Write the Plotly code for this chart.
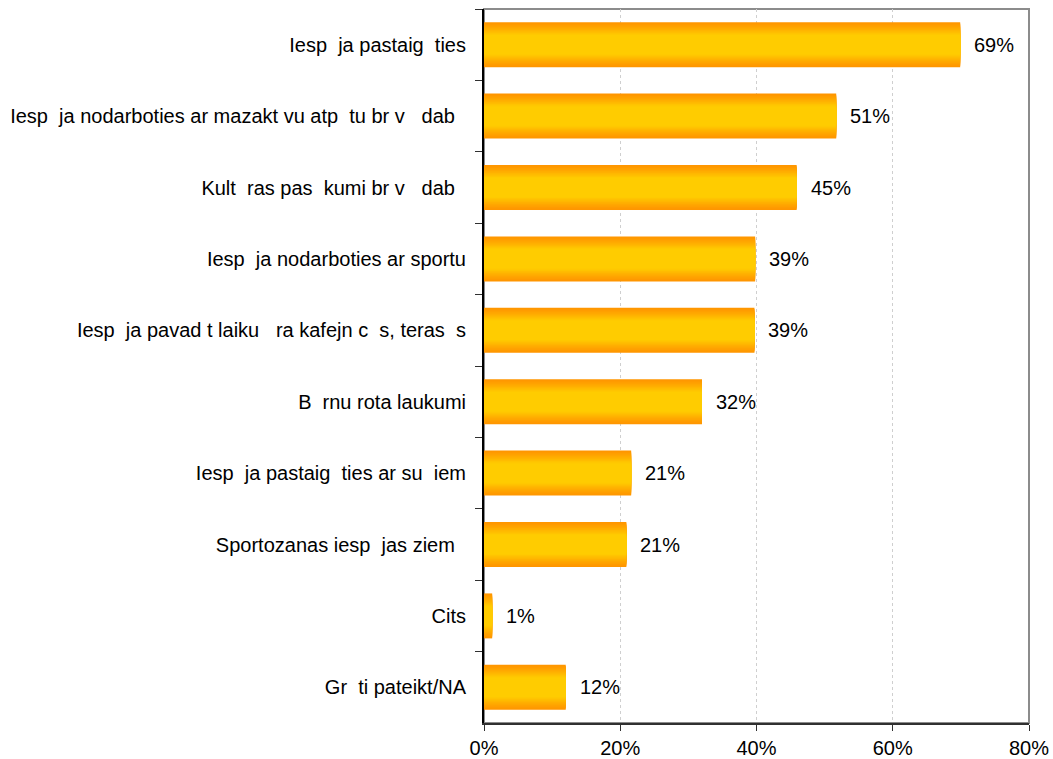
import plotly.graph_objects as go

# Category labels (missing glyphs in the source shown as blank gaps)
FS = "\u2007"  # figure space ~ width of a missing wide letter
PS = "\u2008"  # punctuation space ~ width of a missing narrow letter
categories = [
    f"Iesp{FS}ja pastaig{FS}ties",
    f"Iesp{FS}ja nodarboties ar mazakt{PS}vu atp{FS}tu br{PS}v{FS} dab{FS}",
    f"Kult{FS}ras pas{FS}kumi br{PS}v{FS} dab{FS}",
    f"Iesp{FS}ja nodarboties ar sportu",
    f"Iesp{FS}ja pavad{PS}t laiku {FS}ra kafejn{PS}c{FS}s, teras{FS}s",
    f"B{FS}rnu rota\u00a0laukumi",
    f"Iesp{FS}ja pastaig{FS}ties ar su{FS}iem",
    f"Sportozanas iesp{FS}jas ziem{FS}",
    "Cits",
    f"Gr{FS}ti pateikt/NA",
]
values = [69.9, 51.7, 45.9, 39.8, 39.7, 32.0, 21.6, 20.9, 1.2, 12.0]
value_labels = ["69%", "51%", "45%", "39%", "39%", "32%", "21%", "21%", "1%", "12%"]
x_ticks = [0, 20, 40, 60, 80]
x_tick_labels = ["0%", "20%", "40%", "60%", "80%"]

FONT = "Liberation Sans, Arial, sans-serif"
FSIZE = 20

fig = go.Figure()

# Simulated vertical gradient: stacked overlay bars of decreasing thickness
edge = (255, 150, 0)
center = (255, 204, 0)
full_w = 0.63
n_layers = 16
for k in range(n_layers):
    t = k / (n_layers - 1)
    f = min(1.0, (t * 1.45) ** 1.2)
    col = tuple(round(edge[i] + (center[i] - edge[i]) * f) for i in range(3))
    w = full_w * (1 - 0.85 * k / n_layers)
    fig.add_trace(go.Bar(
        x=values, y=categories, orientation="h",
        width=w,
        marker=dict(color="rgb(%d,%d,%d)" % col, line=dict(width=0)),
        hoverinfo="skip" if k else "x+y",
        showlegend=False,
    ))

for c, v, lab in zip(categories, values, value_labels):
    fig.add_annotation(x=v, y=c, text=lab, showarrow=False, xanchor="left",
                       xshift=12, font=dict(family=FONT, size=FSIZE, color="black"))

fig.update_layout(
    width=1053, height=759,
    margin=dict(l=484, r=24, t=9, b=36, autoexpand=False),
    barmode="overlay",
    plot_bgcolor="white", paper_bgcolor="white",
    font=dict(family=FONT, size=FSIZE, color="black"),
    shapes=[dict(type="rect", xref="x domain", yref="y domain", x0=0, x1=1, y0=0, y1=1,
                 line=dict(color="#8c8c8c", width=2), layer="below")],
)
fig.update_xaxes(
    range=[0, 80], tickvals=x_ticks, ticktext=x_tick_labels,
    showgrid=True, gridcolor="#cfcfcf", griddash="3px,3px", gridwidth=1,
    zeroline=False, showline=True, linecolor="#303030", linewidth=2,
    ticks="outside", ticklen=6, tickcolor="#303030", tickwidth=1,
    tickfont=dict(family=FONT, size=FSIZE, color="black"),
    automargin=False,
)
fig.update_yaxes(
    autorange="reversed", showgrid=False, zeroline=False,
    showline=True, linecolor="black", linewidth=2,
    ticks="outside", ticklen=7, tickcolor="#303030", tickwidth=1,
    tickson="boundaries", ticklabelstandoff=12,
    tickfont=dict(family=FONT, size=FSIZE, color="black"),
    automargin=False,
)

fig.write_html(
    "out.html",
    config={"displayModeBar": False},
    post_script="document.body.style.margin='0';document.body.style.overflow='hidden';",
)
